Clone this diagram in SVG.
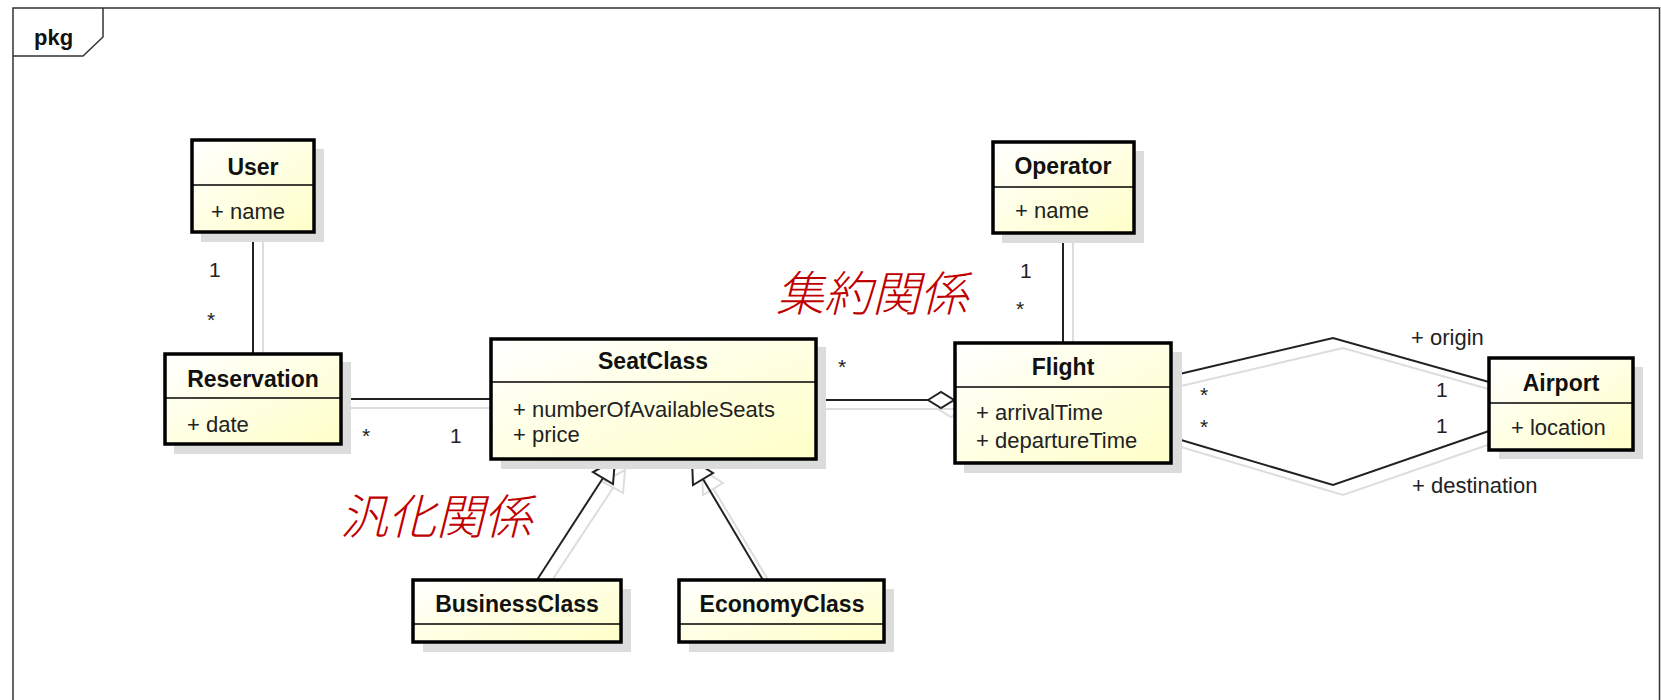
<svg xmlns="http://www.w3.org/2000/svg" width="1661" height="700" viewBox="0 0 1661 700">
<defs>
<linearGradient id="fillG" x1="0" y1="0" x2="1" y2="1">
<stop offset="0" stop-color="#ffffff"/>
<stop offset="1" stop-color="#ffffc8"/>
</linearGradient>
<style>
.shadow{fill:#dcdcdc;}
.box{fill:url(#fillG);stroke:#000;stroke-width:3.5;}
.div{stroke:#000;stroke-width:1.5;}
.name{font-family:"Liberation Sans",Arial,sans-serif;font-weight:bold;font-size:23px;fill:#111;text-anchor:middle;}
.attr{font-family:"Liberation Sans",Arial,sans-serif;font-size:22px;fill:#222;}
.mult{font-family:"Liberation Sans",Arial,sans-serif;font-size:21px;fill:#222;}
.conn{fill:none;stroke:#222;stroke-width:2;}
.connS{fill:none;stroke:#dddddd;stroke-width:2;}
.jp{font-family:"Noto Sans CJK JP","Noto Sans CJK SC",sans-serif;font-size:48px;font-style:italic;font-weight:300;fill:#c00000;}
</style>
</defs>
<rect width="1661" height="700" fill="#ffffff"/>
<g id="frame">
<path d="M13,710 V8 H1659.5 V710" fill="none" stroke="#333" stroke-width="1.5"/>
<path d="M13,56 H83 L103,37 V8" fill="none" stroke="#333" stroke-width="1.5"/>
<text x="34" y="45" style="font-family:'Liberation Sans',Arial,sans-serif;font-weight:bold;font-size:22px;fill:#111">pkg</text>
</g>
<g id="connectors">
<g id="connector-shadows">
<line class="connS" x1="263" y1="242" x2="263" y2="363"/>
<line class="connS" x1="351" y1="408" x2="502" y2="408"/>
<line class="connS" x1="825" y1="409" x2="964" y2="409"/>
<polygon points="938,409 951,401 964,409 951,417" fill="none" stroke="#dddddd" stroke-width="2"/>
<line class="connS" x1="1073" y1="243" x2="1073" y2="352"/>
<polyline class="connS" points="1181,386 1343,348 1499,392"/>
<polyline class="connS" points="1181,447 1343,495 1499,441"/>
<line class="connS" x1="547" y1="588" x2="613" y2="488"/>
<polygon points="625,470 603,482 623,493" fill="none" stroke="#dddddd" stroke-width="2"/>
<line class="connS" x1="773" y1="588" x2="713" y2="488"/>
<polygon points="702,470 703,495 723,483" fill="none" stroke="#dddddd" stroke-width="2"/>
</g>
<g id="c-user-res">
<line class="conn" x1="253" y1="232" x2="253" y2="353"/>
<text class="mult" x="209" y="277">1</text>
<text class="mult" x="207" y="327">*</text>
</g>
<g id="c-res-seat">
<line class="conn" x1="341" y1="399" x2="491" y2="399"/>
<text class="mult" x="362" y="443">*</text>
<text class="mult" x="450" y="443">1</text>
</g>
<g id="c-seat-flight">
<line class="conn" x1="815" y1="400" x2="928" y2="400"/>
<polygon points="928,400 941,392 954,400 941,408" fill="#ffffff" stroke="#222" stroke-width="2"/>
<text class="mult" x="838" y="374">*</text>
</g>
<g id="c-op-flight">
<line class="conn" x1="1063" y1="233" x2="1063" y2="342"/>
<text class="mult" x="1020" y="278">1</text>
<text class="mult" x="1016" y="316">*</text>
</g>
<g id="c-origin">
<polyline class="conn" points="1171,376 1333,338 1489,382"/>
<text class="attr" x="1411" y="345">+ origin</text>
<text class="mult" x="1200" y="402">*</text>
<text class="mult" x="1436" y="397">1</text>
</g>
<g id="c-destination">
<polyline class="conn" points="1171,437 1333,485 1489,431"/>
<text class="attr" x="1412" y="493">+ destination</text>
<text class="mult" x="1200" y="434">*</text>
<text class="mult" x="1436" y="433">1</text>
</g>
<g id="c-business">
<line class="conn" x1="537" y1="580" x2="603" y2="478"/>
<polygon points="615,460 593,472 613,484" fill="#ffffff" stroke="#222" stroke-width="2"/>
</g>
<g id="c-economy">
<line class="conn" x1="763" y1="580" x2="703" y2="479"/>
<polygon points="692,460 693,485 713,473" fill="#ffffff" stroke="#222" stroke-width="2"/>
</g>
</g>
<g id="User">
<rect class="shadow" x="201" y="149" width="123" height="93"/>
<rect class="box" x="192" y="140" width="122" height="92"/>
<line class="div" x1="192" y1="185" x2="314" y2="185"/>
<text class="name" x="253" y="175">User</text>
<text class="attr" x="211" y="219">+ name</text>
</g>
<g id="Reservation">
<rect class="shadow" x="174" y="362" width="177" height="92"/>
<rect class="box" x="165" y="354" width="176" height="90"/>
<line class="div" x1="165" y1="398" x2="341" y2="398"/>
<text class="name" x="253" y="387">Reservation</text>
<text class="attr" x="187" y="432">+ date</text>
</g>
<g id="SeatClass">
<rect class="shadow" x="501" y="347" width="325" height="122"/>
<rect class="box" x="491" y="339" width="325" height="120"/>
<line class="div" x1="491" y1="382" x2="816" y2="382"/>
<text class="name" x="653" y="369">SeatClass</text>
<text class="attr" x="513" y="417">+ numberOfAvailableSeats</text>
<text class="attr" x="513" y="442">+ price</text>
</g>
<g id="Operator">
<rect class="shadow" x="1002" y="151" width="142" height="92"/>
<rect class="box" x="993" y="142" width="141" height="91"/>
<line class="div" x1="993" y1="187" x2="1134" y2="187"/>
<text class="name" x="1063" y="174">Operator</text>
<text class="attr" x="1015" y="218">+ name</text>
</g>
<g id="Flight">
<rect class="shadow" x="964" y="352" width="218" height="121"/>
<rect class="box" x="955" y="343" width="216" height="120"/>
<line class="div" x1="955" y1="387" x2="1171" y2="387"/>
<text class="name" x="1063" y="375">Flight</text>
<text class="attr" x="976" y="420">+ arrivalTime</text>
<text class="attr" x="976" y="448">+ departureTime</text>
</g>
<g id="Airport">
<rect class="shadow" x="1499" y="367" width="144" height="92"/>
<rect class="box" x="1489" y="358" width="144" height="92"/>
<line class="div" x1="1489" y1="403" x2="1633" y2="403"/>
<text class="name" x="1561" y="391">Airport</text>
<text class="attr" x="1511" y="435">+ location</text>
</g>
<g id="BusinessClass">
<rect class="shadow" x="423" y="589" width="208" height="63"/>
<rect class="box" x="413" y="580" width="208" height="62"/>
<line class="div" x1="413" y1="624" x2="621" y2="624"/>
<text class="name" x="517" y="612">BusinessClass</text>
</g>
<g id="EconomyClass">
<rect class="shadow" x="689" y="589" width="205" height="63"/>
<rect class="box" x="679" y="580" width="205" height="62"/>
<line class="div" x1="679" y1="624" x2="884" y2="624"/>
<text class="name" x="782" y="612">EconomyClass</text>
</g>
<g id="labels">
<text class="jp" x="776" y="311">集約関係</text>
<text class="jp" x="340" y="534">汎化関係</text>
</g>
</svg>
